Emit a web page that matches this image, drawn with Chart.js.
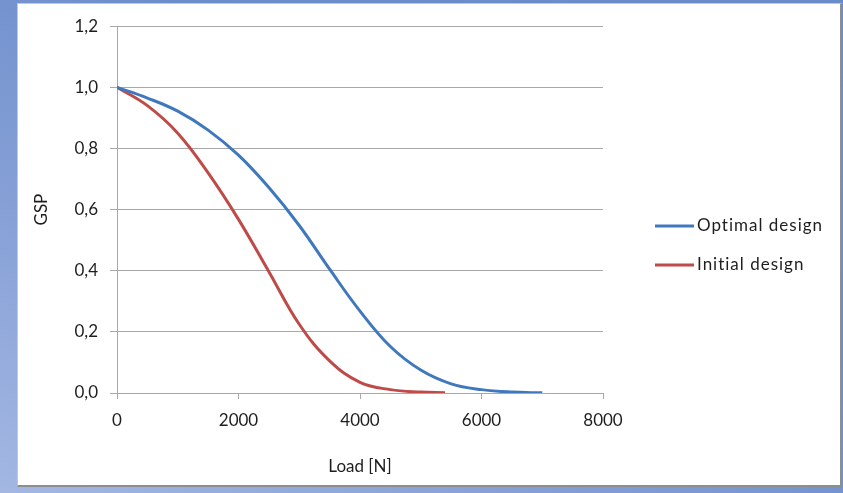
<!DOCTYPE html>
<html>
<head>
<meta charset="utf-8">
<script src="https://cdn.jsdelivr.net/npm/chart.js@4/dist/chart.umd.min.js"></script>
<style>
  html, body { margin: 0; padding: 0; }
  body {
    width: 843px; height: 493px; overflow: hidden; position: relative;
    background: linear-gradient(to top right, #a3b7e2 0%, #86a0d6 30%, #6c8dcb 60%, #6a8bc9 100%);
  }
  #panel {
    position: absolute; left: 17px; top: 3px; width: 822px; height: 481px;
    background: #ffffff;
    border-left: 1px solid #c8c8c8; border-top: 1px solid #c8c8c8;
    border-right: 2px solid #8e8e8e; border-bottom: 2px solid #8e8e8e;
  }
  #chart { display: block; }
</style>
</head>
<body>
<div id="panel"><canvas id="chart" width="822" height="481"></canvas></div>
<script>
// Load in newtons
const loadOptimal = [0, 500, 1000, 1500, 2000, 2500, 3000, 3500, 4000, 4500, 5000, 5500, 6000, 6500, 7000];
const gspOptimal  = [1.0, 0.965, 0.922, 0.860, 0.778, 0.672, 0.548, 0.405, 0.268, 0.152, 0.075, 0.030, 0.011, 0.003, 0.0005];

const loadInitial = [0, 500, 1000, 1500, 2000, 2500, 3000, 3500, 4000, 4500, 5000, 5400];
const gspInitial  = [1.0, 0.940, 0.850, 0.720, 0.568, 0.397, 0.225, 0.105, 0.035, 0.011, 0.003, 0.001];

const xTicks = [0, 2000, 4000, 6000, 8000];
const yTicks = [0, 0.2, 0.4, 0.6, 0.8, 1.0, 1.2];

const seriesNames = ['Optimal design', 'Initial design'];
const seriesColors = ['#4078be', '#be4b48'];

const FONT = 'Lato, "Open Sans", "DejaVu Sans", sans-serif';
const TEXT = '#1e1e1e';
const GRID = '#a8a8a8';

function pairs(xs, ys) { return xs.map((x, i) => ({ x: x, y: ys[i] })); }

// Legend drawn at the right of the plot: a short coloured line and the series name
const sideLegend = {
  id: 'sideLegend',
  afterDraw(chart) {
    const ctx = chart.ctx;
    const x0 = 637, len = 39, gap = 3;
    const rows = [222, 261];
    ctx.save();
    ctx.font = '17px ' + FONT;
    ctx.letterSpacing = '1px';
    ctx.textBaseline = 'middle';
    ctx.textAlign = 'left';
    chart.data.datasets.forEach((ds, i) => {
      const y = rows[i];
      ctx.strokeStyle = ds.borderColor;
      ctx.lineWidth = 3;
      ctx.beginPath();
      ctx.moveTo(x0, y);
      ctx.lineTo(x0 + len, y);
      ctx.stroke();
      ctx.fillStyle = TEXT;
      ctx.fillText(ds.label, x0 + len + gap, y);
    });
    ctx.restore();
  }
};

new Chart(document.getElementById('chart'), {
  type: 'line',
  data: {
    datasets: [
      { label: seriesNames[0], data: pairs(loadOptimal, gspOptimal), borderColor: seriesColors[0], backgroundColor: seriesColors[0] },
      { label: seriesNames[1], data: pairs(loadInitial, gspInitial), borderColor: seriesColors[1], backgroundColor: seriesColors[1] }
    ]
  },
  options: {
    responsive: false,
    animation: false,
    devicePixelRatio: 1,
    layout: { padding: { left: 0, top: 20, right: 237, bottom: 0 } },
    elements: {
      point: { radius: 0 },
      line: { borderWidth: 3, fill: false, tension: 0.4, capBezierPoints: true }
    },
    plugins: {
      legend: { display: false },
      tooltip: { enabled: false }
    },
    scales: {
      x: {
        type: 'linear',
        min: 0, max: 8000,
        afterBuildTicks(scale) { scale.ticks = xTicks.map(v => ({ value: v })); },
        afterFit(scale) { scale.height = 92; },
        border: { display: true, color: GRID, width: 1 },
        grid: { drawOnChartArea: false, drawTicks: true, tickLength: 6, color: GRID },
        ticks: {
          padding: 11, color: TEXT, font: { family: FONT, size: 17 },
          maxRotation: 0,
          callback: v => String(v)
        },
        title: { display: true, text: 'Load [N]', color: TEXT, font: { family: FONT, size: 17 }, padding: { top: 0, bottom: 8 } }
      },
      y: {
        type: 'linear',
        min: 0, max: 1.2,
        afterBuildTicks(scale) { scale.ticks = yTicks.map(v => ({ value: v })); },
        afterFit(scale) { scale.width = 99; },
        border: { display: true, color: GRID, width: 1 },
        grid: { drawOnChartArea: true, drawTicks: true, tickLength: 7, color: GRID },
        ticks: {
          padding: 12, color: TEXT, font: { family: FONT, size: 17 },
          callback: v => v.toFixed(1).replace('.', ',')
        },
        title: { display: true, text: 'GSP', color: TEXT, font: { family: FONT, size: 17 }, padding: { top: 13, bottom: 0 } }
      }
    }
  },
  plugins: [sideLegend]
});
</script>
</body>
</html>
